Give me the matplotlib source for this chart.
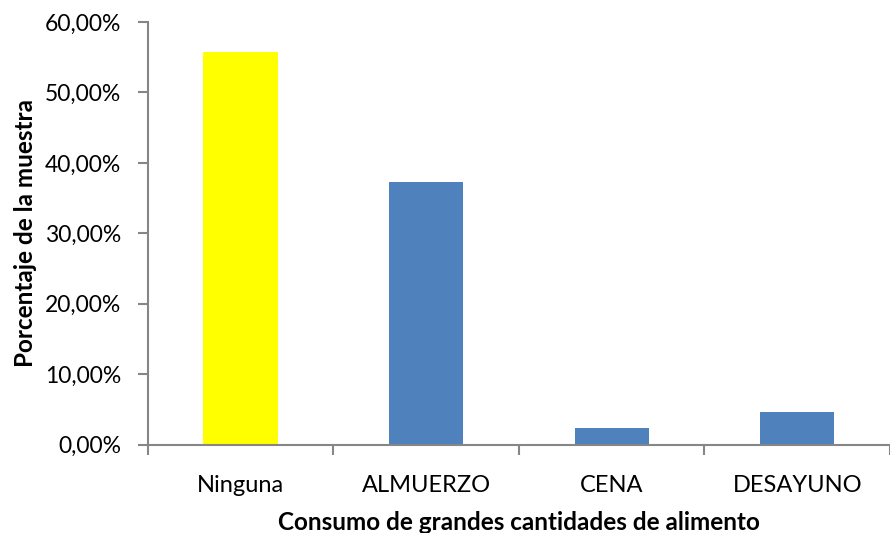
import numpy as np
import matplotlib.pyplot as plt
from matplotlib.ticker import FuncFormatter, FixedLocator

categories = ['Ninguna', 'ALMUERZO', 'CENA', 'DESAYUNO']
values = [55.81, 37.21, 2.33, 4.65]
bar_colors = ['#FFFF00', '#4F81BD', '#4F81BD', '#4F81BD']

plt.rcParams['font.family'] = ['Lato', 'DejaVu Sans']

fig = plt.figure(figsize=(8.9, 5.33), dpi=100)
ax = fig.add_axes([0.166, 0.166, 1.0 - 0.166, 0.9587 - 0.166])

x = np.arange(len(categories))
ax.bar(x, values, width=0.4, color=bar_colors)

ax.set_xlim(-0.5, len(categories) - 0.5)
ax.set_ylim(0, 60)
ax.set_yticks(np.arange(0, 61, 10))
ax.yaxis.set_major_formatter(FuncFormatter(lambda v, p: f'{v:.2f}%'.replace('.', ',')))

ax.set_xticks(x)
ax.set_xticklabels(categories)
ax.xaxis.set_minor_locator(FixedLocator(np.arange(-0.5, len(categories), 1.0)))
ax.tick_params(axis='x', which='major', length=0, pad=22, labelsize=17)
ax.tick_params(axis='x', which='minor', length=7, width=1.5, color='#868686', direction='out')
ax.tick_params(axis='y', length=7, width=1.5, color='#868686', labelsize=16.5, pad=12)

for s in ['top', 'right']:
    ax.spines[s].set_visible(False)
for s in ['left', 'bottom']:
    ax.spines[s].set_color('#868686')
    ax.spines[s].set_linewidth(1.5)

ax.set_xlabel('Consumo de grandes cantidades de alimento', fontsize=17.5, fontweight='bold', labelpad=11)
ax.set_ylabel('Porcentaje de la muestra', fontsize=17.5, fontweight='bold', labelpad=6)

fig.savefig('out.png', dpi=100)
